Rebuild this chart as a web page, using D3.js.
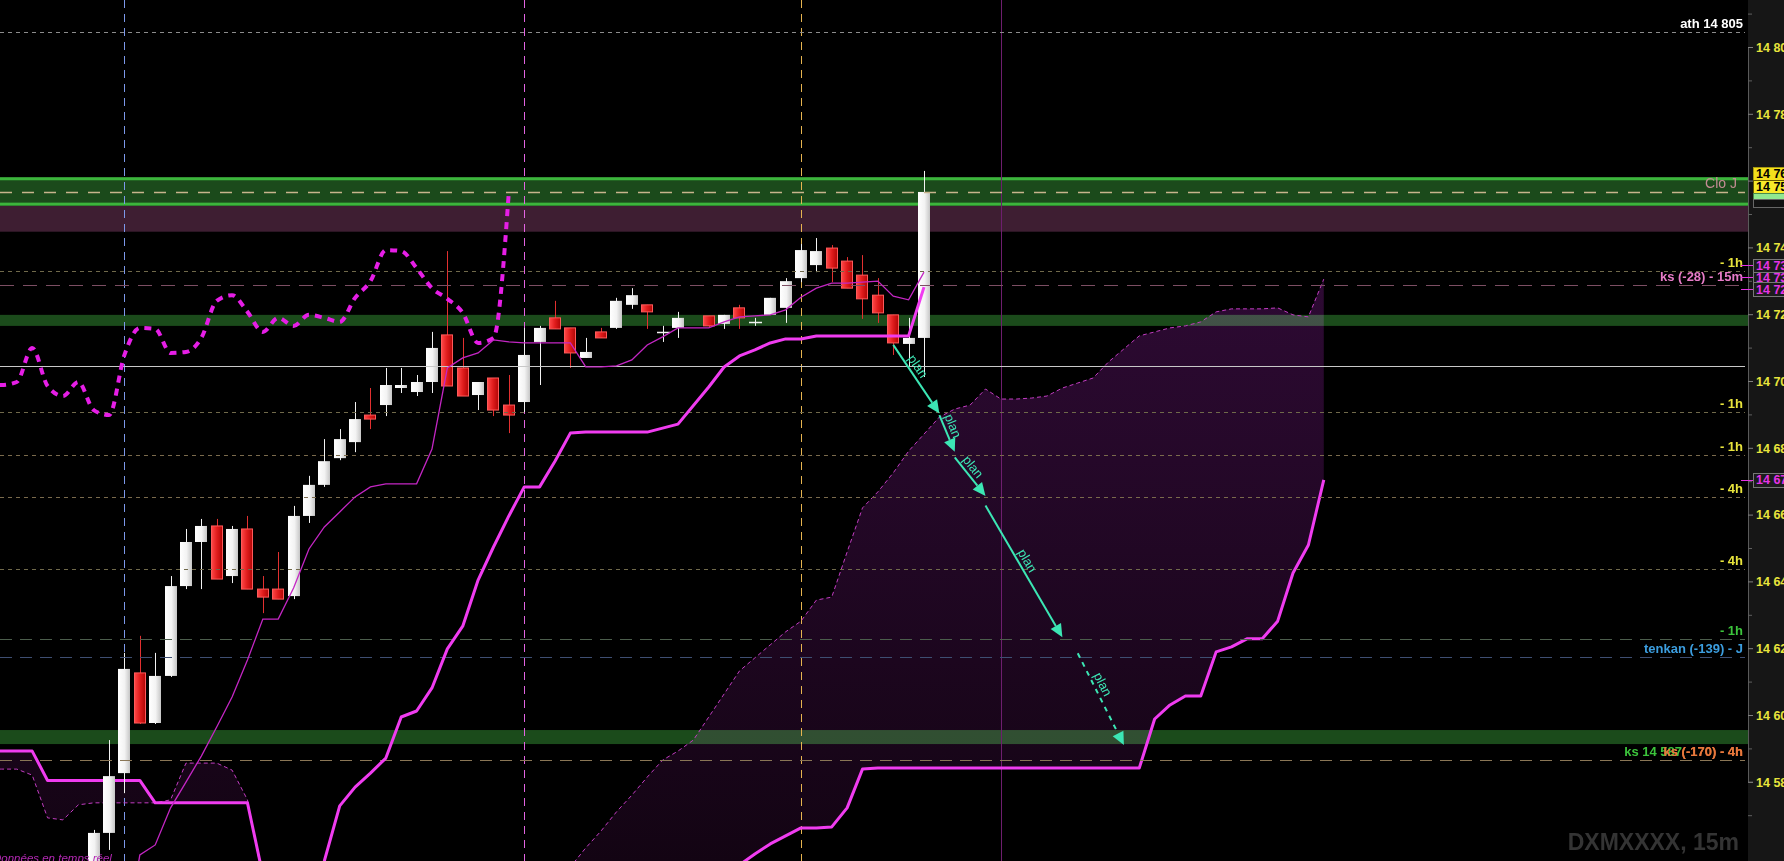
<!DOCTYPE html>
<html><head><meta charset="utf-8">
<script src="https://cdn.jsdelivr.net/npm/d3@7"></script>
<style>html,body{margin:0;padding:0;background:#000;overflow:hidden}svg{display:block}</style>
</head><body>
<svg id="chart" width="1784" height="861"></svg>
<script>
// ---------------- DATA ----------------
const candleSlots = [0,1,2,3,4,5,6,7,8,9,10,11,12,13,14,15,16,17,18,19,20,21,22,23,24,25,26,27,28,29,30,31,32,33,34,35,36,37,38,40,41,42,43,44,45,46,47,48,49,50,51,52,53,54];
const opens  = [14553.6,14564.7,14582.6,14612.6,14597.6,14611.7,14638.6,14651.8,14656.6,14641.6,14655.7,14637.7,14637.7,14635.6,14659.6,14668.9,14676.9,14681.7,14689.8,14692.8,14697.9,14696.7,14699.7,14713.8,14703.9,14695.8,14700.9,14692.8,14693.7,14711.7,14718.9,14715.9,14706.9,14714.7,14715.9,14722.8,14722.8,14714.7,14715.9,14719.5,14717.1,14721.9,14717.7,14719.8,14721.9,14730.8,14734.7,14739.8,14735.9,14731.7,14725.7,14719.8,14711.1,14712.9];
const highs  = [14565.6,14592.5,14618.6,14623.7,14618.6,14641.6,14655.7,14658.7,14658.7,14656.6,14659.6,14641.6,14648.8,14662.6,14671.6,14682.6,14685.6,14693.7,14697.9,14703.9,14703.9,14701.8,14714.7,14738.9,14712.9,14699.7,14700.9,14701.8,14715.9,14716.5,14724.0,14715.9,14712.9,14715.9,14724.9,14727.8,14722.8,14716.5,14720.7,14719.5,14719.8,14722.8,14718.9,14724.9,14730.8,14741.0,14742.8,14740.7,14737.1,14737.7,14730.8,14719.8,14718.9,14762.9];
const lows   = [14550.0,14559.6,14576.6,14597.3,14597.3,14611.4,14637.7,14637.7,14640.7,14639.5,14637.7,14630.5,14634.7,14634.7,14657.5,14668.3,14676.3,14678.7,14685.6,14689.5,14696.4,14695.5,14696.4,14698.5,14695.5,14691.3,14689.5,14684.4,14690.7,14698.8,14715.6,14703.9,14706.9,14712.9,14715.6,14721.6,14715.6,14711.7,14712.9,14715.9,14715.6,14715.6,14716.5,14719.8,14717.4,14729.6,14732.6,14729.6,14727.8,14718.6,14717.4,14707.8,14704.2,14701.2];
const closes = [14564.7,14581.7,14613.8,14597.6,14611.7,14638.6,14651.8,14656.6,14640.7,14655.7,14637.7,14635.3,14634.7,14659.6,14668.9,14676.0,14682.6,14688.6,14688.6,14698.8,14698.8,14699.7,14709.9,14698.5,14695.5,14699.7,14691.3,14689.8,14707.8,14715.9,14715.6,14708.4,14708.7,14712.9,14724.0,14725.7,14720.7,14714.7,14718.9,14716.5,14719.8,14718.9,14717.7,14724.9,14729.9,14739.2,14738.9,14733.8,14727.8,14724.6,14720.4,14711.4,14712.9,14756.6];

const tenkanSlots = [2,3,4,5,6,7,8,9,10,11,12,13,14,15,16,17,18,19,20,21,22,23,24,25,26,27,28,29,30,31,32,33,34,35,36,37,38,40,41,42,43,44,45,46,47,48,49,50,51,52,53,54];
const tenkan = [14530,14558.1,14561.1,14572.2,14579.9,14587.7,14596.4,14605.4,14616.5,14628.7,14628.7,14638.0,14649.7,14656.3,14660.8,14665.3,14668.3,14669.2,14669.2,14669.2,14679.6,14703.9,14706.9,14708.4,14712.3,14711.7,14711.4,14711.4,14711.4,14711.4,14704.2,14704.2,14704.5,14706.3,14710.8,14713.2,14715.9,14715.9,14717.7,14719.2,14719.5,14719.8,14721.3,14725.1,14727.8,14729.3,14729.3,14729.6,14729.9,14725.4,14724.3,14732.6];

const kijunSlots = [14,15,16,17,18,19,20,21,22,23,24,25,26,27,28,29,30,31,32,33,34,35,36,37,38,40,41,42,43,44,45,46,47,48,49,50,51,52,53,54];
const kijun = [14542,14556.3,14572.8,14578.4,14582.6,14587.1,14599.4,14601.2,14608.1,14619.8,14626.6,14640.4,14650.3,14659.6,14668.3,14668.3,14676.0,14684.4,14684.7,14684.7,14684.7,14684.7,14684.7,14685.9,14687.1,14698.2,14704.2,14707.5,14709.3,14711.4,14712.6,14712.6,14713.5,14713.5,14713.5,14713.5,14713.5,14713.5,14713.5,14728.1];

const chikouSlots = [-7,-6,-5,-4,-3,-2,-1,0,1,2,3,4,5,6,7,8,9,10,11,12,13,14,15,16,17,18,19,20,21,22,23,24,25,26,27];
const chikou = [14698.8,14698.8,14699.7,14709.9,14698.5,14695.5,14699.7,14691.3,14689.8,14707.8,14715.9,14715.6,14708.4,14708.7,14712.9,14724.0,14725.7,14720.7,14714.7,14718.9,14716.5,14719.8,14718.9,14717.7,14724.9,14729.9,14739.2,14738.9,14733.8,14727.8,14724.6,14720.4,14711.4,14712.9,14756.6];

// cloud, slots -7 .. 80
const cloudSlots = [-7,-6,-5,-4,-3,-2,-1,0,1,2,3,4,5,6,7,8,9,10,11,12,13,14,15,16,17,18,19,20,21,22,23,24,25,26,27,28,29,30,31,32,33,34,35,36,37,38,39,40,41,42,43,44,45,46,47,48,49,50,51,52,53,54,55,56,57,58,59,60,61,62,63,64,65,66,67,68,69,70,71,72,73,74,75,76,77,78,79,80];
const senkouA = [14583.8,14583.8,14583.8,14582.0,14569.2,14568.6,14573.1,14573.7,14573.7,14573.7,14573.7,14573.7,14574.6,14585.6,14585.6,14585.6,14583.5,14574.6,14550.6,
 14530,14530,14530,14530,14530,14530,14530,14530,14530,14530,14530,14530,14530,14530,14530,14530,14530,14530,14530,
 14554.5,14560.2,14565.3,14571.0,14576.0,14581.4,14586.5,14589.2,14592.5,14599.4,14606.3,14613.2,14617.1,14621.0,14624.9,14628.1,14634.4,14635.3,14648.8,14662.0,14666.8,14672.5,14679.0,14684.1,14689.2,14691.6,14692.8,14697.6,14694.6,14694.6,14694.9,14695.5,14697.9,14699.4,14700.9,14705.7,14709.6,14713.5,14714.7,14715.9,14716.5,14717.7,14720.7,14721.6,14721.6,14721.6,14721.9,14719.8,14719.2,14730.5];
const senkouB = [14589.2,14589.2,14589.2,14589.2,14580.4,14580.4,14580.4,14580.4,14580.4,14580.4,14580.4,14573.7,14573.7,14573.7,14573.7,14573.7,14573.7,14573.7,14552.1,
 14530,14530,14530,14530,14530,14530,14530,14530,14530,14530,14530,14530,14530,14530,14530,14530,14530,14530,14530,14530,14530,14530,14530,14530,14530,14530,14530,14530,14530,14530,
 14555.1,14558.4,14561.4,14563.8,14566.2,14566.2,14566.5,14572.2,14583.8,
 14584.1,14584.1,14584.1,14584.1,14584.1,14584.1,14584.1,14584.1,14584.1,14584.1,14584.1,14584.1,14584.1,14584.1,14584.1,14584.1,14584.1,14584.1,
 14598.8,14603.0,14605.7,14605.7,14618.9,14620.4,14622.8,14622.8,14628.1,14642.5,14650.9,14670.4];

// horizontal zones (price low, price high)
const borderedBand = [14752.5, 14761.0];
const purpleBand = [14744.7, 14752.5];
const greenBands = [[14716.5, 14719.8], [14591.3, 14595.5]];

// horizontal levels
const levelPrices = [14804.6, 14756.6, 14732.9, 14728.7, 14704.6, 14690.7, 14677.8, 14665.3, 14643.7, 14622.8, 14617.4, 14586.5];
const levelLabels = ["ath 14 805", "Clo J", "- 1h", "ks (-28) - 15m", "", "- 1h", "- 1h", "- 4h", "- 4h", "- 1h", "tenkan (-139) - J", "ks (-170) - 4h"];
const extraLabel = {text: "ks 14 587", price: 14586.5};

// vertical markers (slots)
const markerSlots = [2, 28, 46, 59];

// plan arrows
const planFrom = [[52, 14710.8], [55, 14689.8], [56, 14677.1], [58, 14662.7], [64, 14618.5]];
const planTo   = [[55, 14690.3], [56, 14678.8], [58, 14665.6], [63, 14623.3], [67, 14591.0]];
const planText = ["plan", "plan", "plan", "plan", "plan"];

// axis
const majorTicks = [14580,14600,14620,14640,14660,14680,14700,14720,14740,14760,14780,14800];
const minorTicks = [14570,14590,14610,14630,14650,14670,14690,14710,14730,14750,14770,14790,14810];

// price tags on the axis
const tagPrices = [14762.1, 14758.2, 14755.2, 14753.3, 14734.6, 14731.1, 14727.4, 14670.4];
const tagTexts  = ["14 761", "14 757", "14 755", "14 753", "14 733", "14 731", "14 728", "14 670"];

// ---------------- STYLES ----------------
const W = 1784, H = 861, AXIS_X = 1748;
const FONT = "'Liberation Sans', Arial, sans-serif";
const levelStyle = [
  {stroke:"#8c8c8c", dash:"4,4", color:"#ffffff", w:1},
  {stroke:"#c8b48c", dash:"12,10", color:"#c48c94", w:1.4},
  {stroke:"#70694a", dash:"4,4", color:"#e8e43c", w:1},
  {stroke:"#7c4e63", dash:"14,9", color:"#e87cc8", w:1},
  {stroke:"#c8c8c8", dash:null, color:null, w:1},
  {stroke:"#70694a", dash:"4,4", color:"#e8e43c", w:1},
  {stroke:"#7a6a4c", dash:"4,4", color:"#e8e43c", w:1},
  {stroke:"#7a6a4c", dash:"4,4", color:"#e8e43c", w:1},
  {stroke:"#70694a", dash:"4,4", color:"#e8e43c", w:1},
  {stroke:"#4c5e4c", dash:"12,8", color:"#3cc43c", w:1},
  {stroke:"#3e4e72", dash:"12,8", color:"#3c9ee0", w:1},
  {stroke:"#8a7656", dash:"12,8", color:"#e8783c", w:1}
];
const markerStyle = [
  {stroke:"#7c98ea", dash:"8,6"},
  {stroke:"#e264e2", dash:"8,6"},
  {stroke:"#e6b450", dash:"8,6"},
  {stroke:"#6e1e6e", dash:null}
];
const tagStyle = [
  {fill:"#f3df1c", stroke:"#a89a10", text:"#000", h:13},
  {fill:"#f8ea2a", stroke:"#6a5a00", text:"#000", h:13},
  {fill:"#90e890", stroke:"#4a8a4a", text:"#113311", h:7},
  {fill:"#111111", stroke:"#666666", text:"#555", h:8},
  {fill:"#1c1c1c", stroke:"#777777", text:"#e632e6", h:13, tick:"#e632e6"},
  {fill:"#1c1c1c", stroke:"#777777", text:"#e632e6", h:11, tick:"#e632e6"},
  {fill:"#1c1c1c", stroke:"#777777", text:"#e632e6", h:14, tick:"#e632e6"},
  {fill:"#1c1c1c", stroke:"#777777", text:"#e632e6", h:14, tick:"#e632e6"}
];
const PLAN_COLOR = "#3ce6b4";

// ---------------- SCALES ----------------
const x = d3.scaleLinear().domain([0, 54]).range([93.7, 924]);
const y = d3.scaleLinear().domain([14580, 14800]).range([781.8, 47]);
const fmt = d3.formatLocale({decimal:".", thousands:" ", grouping:[3], currency:["",""]}).format(",");

const svg = d3.select("#chart");
const defs = svg.append("defs");
defs.append("clipPath").attr("id","plotClip").append("rect").attr("x",0).attr("y",0).attr("width",AXIS_X).attr("height",H);
function grad(id, stops, attrs) {
  const g = defs.append("linearGradient").attr("id", id);
  Object.entries(attrs).forEach(([k,v]) => g.attr(k, v));
  stops.forEach(([o,c]) => g.append("stop").attr("offset", o).attr("stop-color", c));
}
grad("gWhite", [["0%","#ffffff"],["55%","#f3f3f3"],["100%","#c6c6c6"]], {x1:0,x2:1,y1:0,y2:0});
grad("gRed", [["0%","#ff4848"],["50%","#e01c1c"],["100%","#b00606"]], {x1:0,x2:1,y1:0,y2:0});
grad("gCloud", [["0%","#2e0a34"],["100%","#130413"]], {gradientUnits:"userSpaceOnUse",x1:0,x2:0,y1:260,y2:861});

svg.append("rect").attr("width",W).attr("height",H).attr("fill","#000");
const plot = svg.append("g").attr("clip-path","url(#plotClip)");

// cloud fill
const cloudArea = d3.area().x((d,i) => x(cloudSlots[i])).y0((d,i) => y(senkouB[i])).y1((d,i) => y(senkouA[i]));
plot.append("path").datum(cloudSlots).attr("d", cloudArea).attr("fill","url(#gCloud)");

// bands
greenBands.forEach(([lo,hi]) => plot.append("rect").attr("x",0).attr("width",AXIS_X)
  .attr("y", y(hi)).attr("height", y(lo)-y(hi)).attr("fill","#1b4b1b").style("mix-blend-mode","screen"));
plot.append("rect").attr("x",0).attr("width",AXIS_X).attr("y", y(purpleBand[1])).attr("height", y(purpleBand[0])-y(purpleBand[1])).attr("fill","#3e1e32");
plot.append("rect").attr("x",0).attr("width",AXIS_X).attr("y", y(borderedBand[1])).attr("height", y(borderedBand[0])-y(borderedBand[1])).attr("fill","#1b4a1b");
[borderedBand[1], borderedBand[0]].forEach((p,i) => plot.append("rect").attr("x",0).attr("width",AXIS_X)
  .attr("y", i===0 ? y(p) : y(p)-3).attr("height",3).attr("fill","#3cb43c"));

// vertical markers
markerSlots.forEach((s,i) => {
  const xx = Math.round(x(s)) + 0.5;
  const l = plot.append("line").attr("x1",xx).attr("x2",xx).attr("y1",0).attr("y2",H)
    .attr("stroke", markerStyle[i].stroke).attr("stroke-width",1);
  if (markerStyle[i].dash) l.attr("stroke-dasharray", markerStyle[i].dash);
});

// senkou lines
const lineCloud = arr => d3.line().x((d,i) => x(cloudSlots[i])).y((d,i) => y(arr[i]));
plot.append("path").datum(senkouA).attr("d", lineCloud(senkouA)).attr("fill","none")
  .attr("stroke","#c23cc2").attr("stroke-width",1).attr("stroke-dasharray","4,3");
plot.append("path").datum(senkouB).attr("d", lineCloud(senkouB)).attr("fill","none")
  .attr("stroke","#f03cf0").attr("stroke-width",3).attr("stroke-linejoin","round");

// candles
const cw = (x(1) - x(0)) * 0.78;
const cg = plot.append("g");
candleSlots.forEach((s,k) => {
  const o = opens[k], h = highs[k], l = lows[k], c = closes[k];
  const bull = c >= o;
  const left = Math.round(x(s) - cw/2);
  const wx = left + Math.round(cw/2) + 0.5;
  cg.append("line").attr("x1",wx).attr("x2",wx).attr("y1",y(h)).attr("y2",y(l))
    .attr("stroke", bull ? "#f2f2f2" : "#e23030").attr("stroke-width",1);
  if (o === c) {
    cg.append("line").attr("x1",left).attr("x2",left+Math.round(cw)+1).attr("y1",Math.round(y(o))+0.5).attr("y2",Math.round(y(o))+0.5)
      .attr("stroke","#f2f2f2").attr("stroke-width",1.5);
  } else {
    const top = y(Math.max(o,c)), bot = y(Math.min(o,c));
    const r = cg.append("rect").attr("x", left + (bull?0:0.5)).attr("y", top).attr("width", Math.round(cw) - (bull?0:1))
      .attr("height", Math.max(bot-top, 1.5)).attr("fill", bull ? "url(#gWhite)" : "url(#gRed)");
    if (!bull) r.attr("stroke","#ff5a5a").attr("stroke-width",1);
  }
});

// horizontal levels
levelPrices.forEach((p,i) => {
  const st = levelStyle[i];
  const yy = Math.round(y(p)) + 0.5;
  const l = plot.append("line").attr("x1",0).attr("x2",AXIS_X-3).attr("y1",yy).attr("y2",yy)
    .attr("stroke", st.stroke).attr("stroke-width", st.w);
  if (st.dash) l.attr("stroke-dasharray", st.dash);
});

// chikou
plot.append("path").datum(chikou)
  .attr("d", d3.line().x((d,i) => x(chikouSlots[i])).y(d => y(d)).curve(d3.curveMonotoneX))
  .attr("fill","none").attr("stroke","#e61ee6").attr("stroke-width",4).attr("stroke-dasharray","7,6");
// tenkan
plot.append("path").datum(tenkan)
  .attr("d", d3.line().x((d,i) => x(tenkanSlots[i])).y(d => y(d)))
  .attr("fill","none").attr("stroke","#c426c4").attr("stroke-width",1.3);
// kijun
plot.append("path").datum(kijun)
  .attr("d", d3.line().x((d,i) => x(kijunSlots[i])).y(d => y(d)))
  .attr("fill","none").attr("stroke","#f03cf0").attr("stroke-width",3).attr("stroke-linejoin","round");

// plan arrows
planFrom.forEach((f,i) => {
  const x1 = x(f[0]), y1 = y(f[1]), x2 = x(planTo[i][0]), y2 = y(planTo[i][1]);
  const a = Math.atan2(y2-y1, x2-x1);
  const L = 13, HW = 6;
  const bx = x2 - L*Math.cos(a), by = y2 - L*Math.sin(a);
  const ln = plot.append("line").attr("x1",x1).attr("y1",y1).attr("x2",bx).attr("y2",by)
    .attr("stroke",PLAN_COLOR).attr("stroke-width",2);
  if (i === 4) ln.attr("stroke-dasharray","5,5");
  plot.append("polygon").attr("points", [[x2,y2],[bx - HW*Math.sin(a), by + HW*Math.cos(a)],[bx + HW*Math.sin(a), by - HW*Math.cos(a)]].map(p=>p.join(",")).join(" "))
    .attr("fill",PLAN_COLOR);
  const t = i === 3 ? 0.45 : 0.38;
  const px = x1 + t*(x2-x1), py = y1 + t*(y2-y1);
  plot.append("text").attr("transform", `translate(${px},${py}) rotate(${a*180/Math.PI})`)
    .attr("dy", -4).attr("text-anchor","middle").attr("fill",PLAN_COLOR)
    .attr("font-family",FONT).attr("font-size",13).text(planText[i]);
});

// level labels
levelPrices.forEach((p,i) => {
  if (!levelLabels[i]) return;
  const st = levelStyle[i];
  plot.append("text").attr("x", i===1 ? 1737 : 1743).attr("y", Math.round(y(p)) - 4)
    .attr("text-anchor","end").attr("fill", st.color).attr("font-family",FONT)
    .attr("font-weight", i===1 ? "normal" : "bold").attr("font-size", i===1 ? 14 : 13).text(levelLabels[i]);
});
plot.append("text").attr("x",1682).attr("y",Math.round(y(extraLabel.price)) - 4).attr("text-anchor","end")
  .attr("fill","#3cc43c").attr("font-family",FONT).attr("font-weight","bold").attr("font-size",13).text(extraLabel.text);
// orange label drawn on top of the green one
plot.append("text").attr("x",1743).attr("y",Math.round(y(levelPrices[11])) - 4).attr("text-anchor","end")
  .attr("fill","#e8783c").attr("font-family",FONT).attr("font-weight","bold").attr("font-size",13).text(levelLabels[11]);

// watermark & status text
plot.append("text").attr("x",1739).attr("y",850).attr("text-anchor","end").attr("fill","#343434")
  .attr("font-family",FONT).attr("font-weight","bold").attr("font-size",23).text("DXMXXXX, 15m");
plot.append("text").attr("x",-7).attr("y",862).attr("fill","#b428b4").attr("font-family",FONT)
  .attr("font-style","italic").attr("font-size",11.5).text("Données en temps réel");

// ---------------- AXIS ----------------
svg.append("rect").attr("x",AXIS_X).attr("y",0).attr("width",W-AXIS_X).attr("height",H).attr("fill","#161616");
const axisG = svg.append("g").attr("transform",`translate(${AXIS_X},0)`);
axisG.call(d3.axisRight(y).tickValues(majorTicks).tickSize(5).tickPadding(3).tickFormat(fmt));
axisG.select(".domain").attr("stroke","#5a5a5a");
axisG.selectAll(".tick line").attr("stroke","#808080");
axisG.selectAll(".tick text").attr("fill","#e8e43c").attr("font-family",FONT).attr("font-weight","bold").attr("font-size",12.5).attr("dy","0.35em");
const minorG = svg.append("g").attr("transform",`translate(${AXIS_X},0)`);
minorG.call(d3.axisRight(y).tickValues(minorTicks).tickSize(4).tickFormat(""));
minorG.select(".domain").remove();
minorG.selectAll(".tick line").attr("stroke","#606060");

// price tags
tagPrices.forEach((p,i) => {
  const st = tagStyle[i];
  const cy = y(p);
  if (st.tick) svg.append("line").attr("x1",1741).attr("x2",1753).attr("y1",Math.round(cy)+0.5).attr("y2",Math.round(cy)+0.5).attr("stroke",st.tick);
  svg.append("rect").attr("x",1753.5).attr("y",Math.round(cy - st.h/2)+0.5).attr("width",40).attr("height",st.h)
    .attr("fill",st.fill).attr("stroke",st.stroke).attr("stroke-width",1);
  if (st.h >= 11) svg.append("text").attr("x",1756).attr("y",cy).attr("dy","0.36em").attr("fill",st.text)
    .attr("font-family",FONT).attr("font-weight","bold").attr("font-size",12.5).text(tagTexts[i]);
});
</script>
</body></html>
